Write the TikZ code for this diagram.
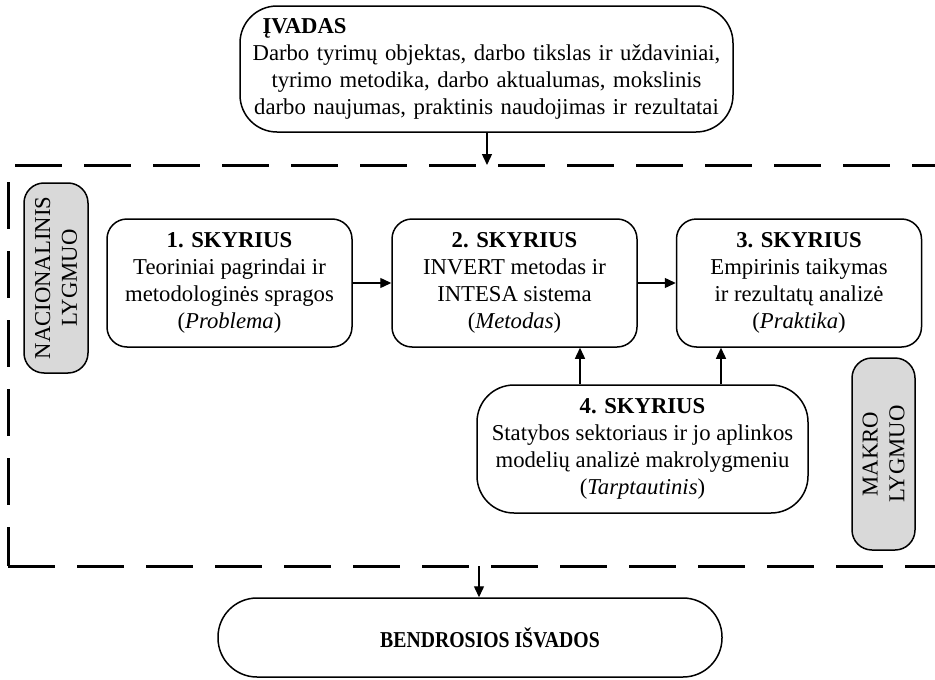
\documentclass[tikz,border=0pt]{standalone}
\usepackage{fontspec}
\setmainfont{Liberation Serif}
\usetikzlibrary{arrows.meta}
\begin{document}
\begin{tikzpicture}[x=1pt,y=1pt,
  txt/.style={font=\fontsize{22.7}{26.8}\selectfont, align=center, inner sep=0pt},
  chapter/.style={txt, draw, line width=1.5pt, rounded corners=20pt,
    minimum width=245pt, minimum height=128pt},
  roundbox/.style={txt, draw, line width=1.5pt, rounded corners=37pt},
  levelbox/.style={txt, draw, line width=1.5pt, fill=gray!30, rounded corners=20pt,
    rotate=90},
  arr/.style={line width=1.4pt, -{Triangle[length=11pt,width=10pt]}},
  frame/.style={line width=3pt, dash pattern=on 47pt off 22pt}
]
\useasboundingbox (0,0) rectangle (935,-680);

% dashed frame around the chapters (open on the right)
\draw[frame] (15,-165) -- (945,-165);
\draw[frame] (8,-182) -- (8,-566);
\draw[frame] (8,-566) -- (945,-566);
\coordinate (frametop) at (487,-165);
\coordinate (framebot) at (479,-566);

% introduction
\node[roundbox, minimum width=493pt, minimum height=126pt, text width=480pt]
  (intro) at (486.5,-69)
  {\hspace*{16pt}\textbf{ĮVADAS}\hfill\null\\
   Darbo tyrimų objektas, darbo tikslas ir uždaviniai,\\
   tyrimo metodika, darbo aktualumas, mokslinis\\
   darbo naujumas, praktinis naudojimas ir rezultatai};

% chapters
\node[chapter] (ch1) at (229.5,-283)
  {\textbf{1. SKYRIUS}\\Teoriniai pagrindai ir\\metodologinės spragos\\(\textit{Problema})};
\node[chapter] (ch2) at (514.5,-283)
  {\textbf{2. SKYRIUS}\\INVERT metodas ir\\INTESA sistema\\(\textit{Metodas})};
\node[chapter] (ch3) at (799,-283)
  {\textbf{3. SKYRIUS}\\Empirinis taikymas\\ir rezultatų analizė\\(\textit{Praktika})};
\node[roundbox, minimum width=331pt, minimum height=128pt] (ch4) at (642.5,-449)
  {\textbf{4. SKYRIUS}\\Statybos sektoriaus ir jo aplinkos\\modelių analizė makrolygmeniu\\(\textit{Tarptautinis})};

% level labels
\node[levelbox, minimum width=190pt, minimum height=64pt] (national) at (56,-278)
  {NACIONALINIS\\LYGMUO};
\node[levelbox, minimum width=192pt, minimum height=63pt] (macro) at (883.5,-454)
  {MAKRO\\LYGMUO};

% conclusions (condensed bold title, set a little right of centre)
\node[roundbox, rounded corners=39pt, minimum width=504pt, minimum height=79pt]
  (concl) at (470,-637.5)
  {\hspace*{40pt}\scalebox{0.87}[1]{\textbf{BENDROSIOS IŠVADOS}}};

% connectors
\coordinate (up2) at (580,0);
\coordinate (up3) at (721,0);
\draw[arr] (intro.south -| frametop) -- (frametop);
\draw[arr] (ch1.east) -- (ch2.west);
\draw[arr] (ch2.east) -- (ch3.west);
\draw[arr] (ch4.north -| up2) -- (ch2.south -| up2);
\draw[arr] (ch4.north -| up3) -- (ch3.south -| up3);
\draw[arr] (framebot) -- (concl.north -| framebot);
\end{tikzpicture}
\end{document}
